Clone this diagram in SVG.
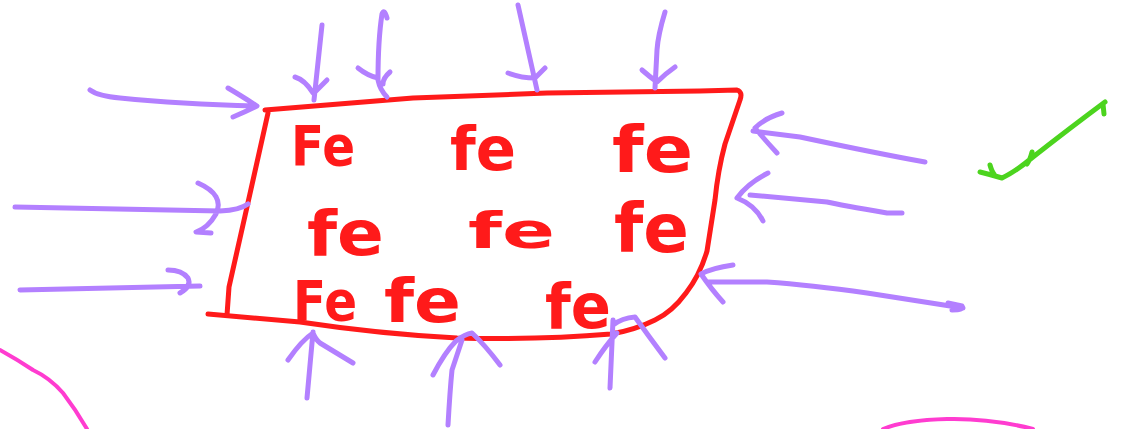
<svg xmlns="http://www.w3.org/2000/svg" width="1122" height="429" viewBox="0 0 1122 429">
<style>
.s{fill:none;stroke-linecap:round;stroke-linejoin:round}
.red{stroke:#ff1a1a;stroke-width:5}
.pur{stroke:#b380ff;stroke-width:5}
.grn{stroke:#4cd41e;stroke-width:5}
.pnk{stroke:#ff3cd0;stroke-width:4}
.t{fill:#ff1a1a;font-family:"DejaVu Sans",sans-serif;font-weight:bold}
</style>
<rect width="1122" height="429" fill="#ffffff"/>
<g id="box">
<path class="s red" d="M265,110 L413,98 L547,93 L700,91 L737,90 Q743,92 740,100 L725,144 Q718,170 715,200 L707,251 Q700,275 686,293 Q672,312 655,320 Q635,330 611,334 Q540,340 457,338 Q380,334 300,322 L208,314"/>
<path class="s red" d="M268,113 L247,207 L229,287 L227,315"/>
<text class="t" x="291" y="165" font-size="56" textLength="64" lengthAdjust="spacingAndGlyphs">Fe</text>
<text class="t" x="450" y="170" font-size="60" textLength="66" lengthAdjust="spacingAndGlyphs">fe</text>
<text class="t" x="612" y="172" font-size="64" textLength="81" lengthAdjust="spacingAndGlyphs">fe</text>
<text class="t" x="307" y="255" font-size="62" textLength="77" lengthAdjust="spacingAndGlyphs">fe</text>
<text class="t" x="468" y="248" font-size="50" textLength="87" lengthAdjust="spacingAndGlyphs">fe</text>
<text class="t" x="614" y="252" font-size="68" textLength="75" lengthAdjust="spacingAndGlyphs">fe</text>
<text class="t" x="293" y="320" font-size="56" textLength="64" lengthAdjust="spacingAndGlyphs">Fe</text>
<text class="t" x="384" y="322" font-size="60" textLength="77" lengthAdjust="spacingAndGlyphs">fe</text>
<text class="t" x="545" y="328" font-size="62" textLength="66" lengthAdjust="spacingAndGlyphs">fe</text>
</g>
<g id="connectors">
<path class="s pur" d="M90,90 Q98,96 120,98 Q180,104 257,106 M228,88 Q240,95 257,106 Q245,112 233,117"/>
<path class="s pur" d="M15,207 Q150,210 220,211 Q240,210 248,204 M198,183 Q225,195 216,214 Q208,228 196,232 L211,233"/>
<path class="s pur" d="M20,290 L200,286 M168,270 Q182,270 188,278 Q192,286 180,293"/>
<path class="s pur" d="M322,25 L314,100 M295,77 Q305,80 313,93 M327,80 L316,91"/>
<path class="s pur" d="M387,18 Q384,8 382,14 Q378,40 378,80 Q380,90 387,97 M358,68 Q368,76 378,78 M390,72 Q383,78 383,84"/>
<path class="s pur" d="M518,5 L537,90 M508,73 Q522,78 535,78 Q541,72 545,68"/>
<path class="s pur" d="M665,12 Q658,35 657,50 L655,88 M642,70 Q650,77 657,82 Q665,74 675,67"/>
<path class="s pur" d="M307,398 L313,332 M288,360 Q302,340 313,333 Q316,340 320,343 L353,363"/>
<path class="s pur" d="M448,425 Q450,390 452,370 L462,340 M433,375 Q445,352 456,341 Q465,334 472,333 Q485,345 500,365"/>
<path class="s pur" d="M610,388 L613,320 M595,362 Q606,345 617,333 M613,325 Q622,318 635,317 Q650,338 665,358"/>
<path class="s pur" d="M925,162 Q880,154 800,137 L753,131 M782,113 Q765,118 755,128 Q765,140 777,153"/>
<path class="s pur" d="M902,213 L887,213 Q840,205 827,202 L750,195 M768,173 Q748,183 737,198 Q755,205 763,221"/>
<path class="s pur" d="M963,308 Q930,303 867,293 Q810,285 767,282 L707,282 M733,265 Q712,268 701,274 Q712,290 723,302 M948,303 L962,306 Q965,310 952,310"/>
</g>
<path class="s grn" d="M980,172 Q992,175 1002,178 Q1015,172 1033,157 Q1070,128 1105,102 M990,165 Q992,172 994,174 M1032,152 Q1030,160 1027,164 M1103,104 L1104,114"/>
<path class="s pnk" d="M0,350 Q18,360 33,370 Q50,378 63,393 Q76,410 87,429"/>
<path class="s pnk" d="M883,429 Q905,420 947,419 Q990,418 1033,429"/>
</svg>
